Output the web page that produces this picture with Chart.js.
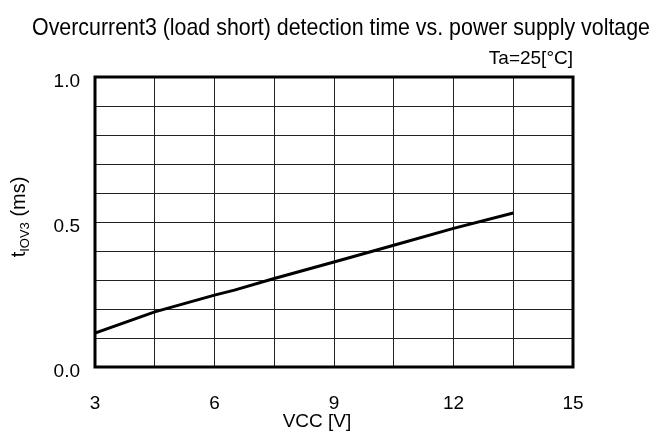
<!DOCTYPE html>
<html>
<head>
<meta charset="utf-8">
<script src="https://cdn.jsdelivr.net/npm/chart.js@4.4.1/dist/chart.umd.min.js"></script>
<style>
  html, body { margin: 0; padding: 0; background: #fff; }
  #wrap { width: 656px; height: 441px; }
</style>
</head>
<body>
<div id="wrap"><canvas id="mycanvas" width="656" height="441"></canvas></div>
<script>
// VCC [V] vs detection time tIOV3 [ms]
var vcc = [3, 4.5, 6, 6.5, 7.5, 9, 10.5, 12, 13.5];
var tiov3 = [0.117, 0.19, 0.248, 0.265, 0.305, 0.362, 0.42, 0.478, 0.531];
var xTickLabels = [3, 6, 9, 12, 15];
var yTickLabels = [0, 0.5, 1.0];

var FONT = "'Liberation Sans', Arial, sans-serif";

var points = [];
for (var i in vcc) {
    points.push({x: vcc[i], y: tiov3[i]});
}

var textPlugin = {
    id: 'texts',
    afterDraw: function(chart) {
        var ctx = chart.ctx;
        var a = chart.chartArea;
        ctx.save();

        // frame
        ctx.strokeStyle = '#000';
        ctx.lineWidth = 3;
        ctx.strokeRect(a.left, a.top, a.right - a.left, a.bottom - a.top);

        ctx.fillStyle = '#000';
        ctx.textBaseline = 'middle';

        // title, narrow like the original
        var title = 'Overcurrent3 (load short) detection time vs. power supply voltage';
        ctx.font = '24px ' + FONT;
        var w = ctx.measureText(title).width;
        ctx.save();
        ctx.translate(32, 28);
        ctx.scale(618 / w, 1);
        ctx.textAlign = 'left';
        ctx.fillText(title, 0, 0);
        ctx.restore();

        ctx.font = '19px ' + FONT;
        ctx.textAlign = 'right';
        ctx.fillText('Ta=25[°C]', a.right, 59);

        ctx.textAlign = 'center';
        ctx.fillText('VCC [V]', 317, 422);

        // y title with subscript
        ctx.save();
        ctx.translate(25, 217);
        ctx.rotate(-Math.PI / 2);
        ctx.textBaseline = 'alphabetic';
        var p1 = 't', p2 = 'IOV3', p3 = ' (ms)';
        ctx.font = '20px ' + FONT;
        var w1 = ctx.measureText(p1).width;
        var w3 = ctx.measureText(p3).width;
        ctx.font = '13px ' + FONT;
        var w2 = ctx.measureText(p2).width;
        var x0 = -(w1 + w2 + w3) / 2;
        ctx.textAlign = 'left';
        ctx.font = '20px ' + FONT;
        ctx.fillText(p1, x0, 0);
        ctx.font = '13px ' + FONT;
        ctx.fillText(p2, x0 + w1, 4);
        ctx.font = '20px ' + FONT;
        ctx.fillText(p3, x0 + w1 + w2, 0);
        ctx.restore();

        ctx.restore();
    }
};

var chartdata = {
    datasets: [
        {
            label: 'tIOV3',
            data: points,
            borderColor: '#000',
            backgroundColor: '#000',
            borderWidth: 3,
            pointRadius: 0,
            fill: false,
            tension: 0
        }
    ]
};

var ctx = document.getElementById('mycanvas');

var LineGraph = new Chart(ctx, {
    type: 'line',
    data: chartdata,
    options: {
        responsive: false,
        animation: false,
        layout: { padding: { left: 0, top: 77, right: 83, bottom: 0 } },
        plugins: {
            legend: { display: false },
            tooltip: { enabled: false }
        },
        scales: {
            x: {
                type: 'linear',
                min: 3,
                max: 15,
                afterFit: function(s) { s.height = 441 - 367; },
                ticks: {
                    stepSize: 1.5,
                    padding: 25,
                    maxRotation: 0,
                    autoSkip: false,
                    color: '#000',
                    font: { family: FONT, size: 19 },
                    callback: function(v) {
                        return xTickLabels.indexOf(v) >= 0 ? String(v) : '';
                    }
                },
                grid: { color: '#222', lineWidth: 1, drawTicks: false },
                border: { display: false }
            },
            y: {
                min: 0,
                max: 1,
                afterFit: function(s) { s.width = 95; },
                ticks: {
                    stepSize: 0.1,
                    padding: 15,
                    labelOffset: 5,
                    autoSkip: false,
                    color: '#000',
                    font: { family: FONT, size: 19 },
                    callback: function(v) {
                        var r = Math.round(v * 10) / 10;
                        return yTickLabels.indexOf(r) >= 0 ? r.toFixed(1) : '';
                    }
                },
                grid: { color: '#222', lineWidth: 1, drawTicks: false },
                border: { display: false }
            }
        }
    },
    plugins: [textPlugin]
});
</script>
</body>
</html>
